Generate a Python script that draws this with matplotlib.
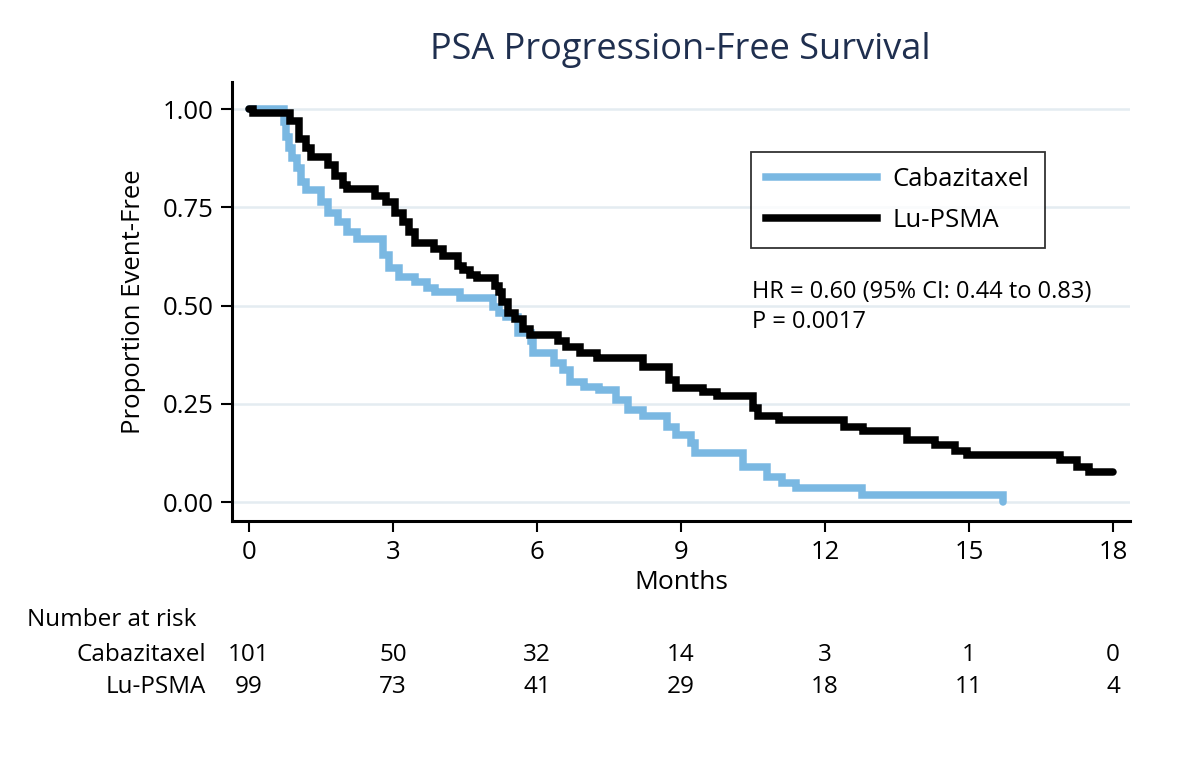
import matplotlib
matplotlib.use("Agg")
import matplotlib.pyplot as plt
from matplotlib.lines import Line2D

plt.rcParams['font.family'] = ['Open Sans', 'DejaVu Sans']

# ---- data ----
lu_t = [0, 0.08, 0.85, 1.05, 1.18, 1.3, 1.65, 1.8, 1.95, 2.05, 2.62, 2.85, 3.05, 3.2, 3.33, 3.45,
        3.85, 4.05, 4.35, 4.45, 4.6, 4.75, 5.12, 5.2, 5.27, 5.4, 5.55, 5.7, 5.85, 6.43, 6.6, 6.9,
        7.25, 8.2, 8.75, 8.9, 9.45, 9.75, 10.5, 10.6, 11.05, 12.4, 12.8, 13.7, 14.3, 14.7, 14.95,
        16.9, 17.25, 17.5, 18.0]
lu_s = [1.00, 0.99, 0.97, 0.925, 0.90, 0.877, 0.857, 0.83, 0.806, 0.798, 0.78, 0.764, 0.735, 0.713,
        0.687, 0.66, 0.645, 0.625, 0.60, 0.59, 0.578, 0.57, 0.55, 0.535, 0.51, 0.48, 0.465, 0.44,
        0.425, 0.41, 0.395, 0.38, 0.366, 0.345, 0.31, 0.29, 0.28, 0.27, 0.24, 0.22, 0.209, 0.19,
        0.18, 0.157, 0.145, 0.13, 0.12, 0.107, 0.09, 0.077, 0.077]

cab_t = [0, 0.73, 0.77, 0.83, 0.9, 1.0, 1.08, 1.18, 1.5, 1.65, 1.85, 2.05, 2.25, 2.8, 2.92, 3.12,
         3.45, 3.7, 3.88, 4.4, 5.08, 5.2, 5.35, 5.6, 5.88, 5.92, 6.35, 6.55, 6.68, 6.98, 7.3, 7.65,
         7.9, 8.2, 8.7, 8.9, 9.2, 9.3, 10.3, 10.8, 11.1, 11.4, 12.77, 15.7]
cab_s = [1.00, 0.967, 0.93, 0.90, 0.875, 0.85, 0.815, 0.794, 0.763, 0.735, 0.713, 0.687, 0.67, 0.63,
         0.596, 0.572, 0.56, 0.545, 0.535, 0.52, 0.497, 0.48, 0.47, 0.43, 0.41, 0.38, 0.353, 0.336,
         0.305, 0.292, 0.285, 0.26, 0.235, 0.22, 0.19, 0.17, 0.15, 0.125, 0.09, 0.065, 0.048, 0.036,
         0.018, 0.0]

risk_times = [0, 3, 6, 9, 12, 15, 18]
risk_cab = [101, 50, 32, 14, 3, 1, 0]
risk_lu = [99, 73, 41, 29, 18, 11, 4]
x_ticks = [0, 3, 6, 9, 12, 15, 18]
y_ticks = [0.0, 0.25, 0.5, 0.75, 1.0]

BLUE = '#7ab8e2'
TITLE_C = '#1f2f4f'
FS = 18.5
LW = 5.4

fig = plt.figure(figsize=(12, 7.67), dpi=100)
ax = fig.add_axes([232/1200, 1 - 521/767, (1130-232)/1200, (521-82)/767])

ax.set_xlim(-0.354, 18.354)
ax.set_ylim(-0.048, 1.069)

for y in y_ticks:
    ax.axhline(y, color='#e4ecf1', lw=1.8, zorder=0)

ax.step(cab_t, cab_s, where='post', color=BLUE, lw=LW, solid_joinstyle='miter',
        solid_capstyle='round', zorder=3)
ax.step(lu_t, lu_s, where='post', color='black', lw=LW, solid_joinstyle='miter',
        solid_capstyle='round', zorder=4)

ax.set_xticks(x_ticks)
ax.set_xticklabels([str(v) for v in x_ticks])
ax.set_yticks(y_ticks)
ax.set_yticklabels([f'{v:.2f}' for v in y_ticks])
ax.tick_params(axis='both', labelsize=FS, length=8, width=1.5, direction='out', color='black')
ax.tick_params(axis='y', pad=5)
ax.tick_params(axis='x', pad=6)

for s in ['top', 'right']:
    ax.spines[s].set_visible(False)
for s in ['left', 'bottom']:
    ax.spines[s].set_linewidth(2.2)
    ax.spines[s].set_color('black')

ax.set_xlabel('Months', fontsize=19, labelpad=3)
ax.set_ylabel('Proportion Event-Free', fontsize=18.5, labelpad=12)

fig.text(680/1200, 1 - 50/767, 'PSA Progression-Free Survival', fontsize=26,
         color=TITLE_C, ha='center', va='center')

handles = [Line2D([0], [0], color=BLUE, lw=LW), Line2D([0], [0], color='black', lw=LW)]
leg = ax.legend(handles, ['Cabazitaxel', 'Lu-PSMA'], loc='upper left',
                bbox_to_anchor=((751-232)/898, 1 - (152-82)/439), fontsize=18.5,
                frameon=True, fancybox=False, edgecolor='black', handlelength=4.3,
                handletextpad=0.6, borderpad=0.6, labelspacing=0.6, borderaxespad=0)
leg.get_frame().set_linewidth(1.3)

fig.text(752/1200, 1 - 292/767, 'HR = 0.60 (95% CI: 0.44 to 0.83)', fontsize=17,
         ha='left', va='center')
fig.text(752/1200, 1 - 322/767, 'P = 0.0017', fontsize=17, ha='left', va='center')

# risk table
RFS = 17.5
fig.text(27/1200, 1 - 620/767, 'Number at risk', fontsize=RFS, ha='left', va='center')
fig.text(206/1200, 1 - 655/767, 'Cabazitaxel', fontsize=RFS, ha='right', va='center')
fig.text(206/1200, 1 - 687/767, 'Lu-PSMA', fontsize=RFS, ha='right', va='center')
tr_y_cab = 1 - 655/767
tr_y_lu = 1 - 687/767
for t, c, l in zip(risk_times, risk_cab, risk_lu):
    xf = ax.transData.transform((t, 0))[0] / fig.bbox.width
    fig.text(xf, tr_y_cab, str(c), fontsize=RFS, ha='center', va='center')
    fig.text(xf, tr_y_lu, str(l), fontsize=RFS, ha='center', va='center')

fig.savefig('out.png', dpi=100, facecolor='white')
